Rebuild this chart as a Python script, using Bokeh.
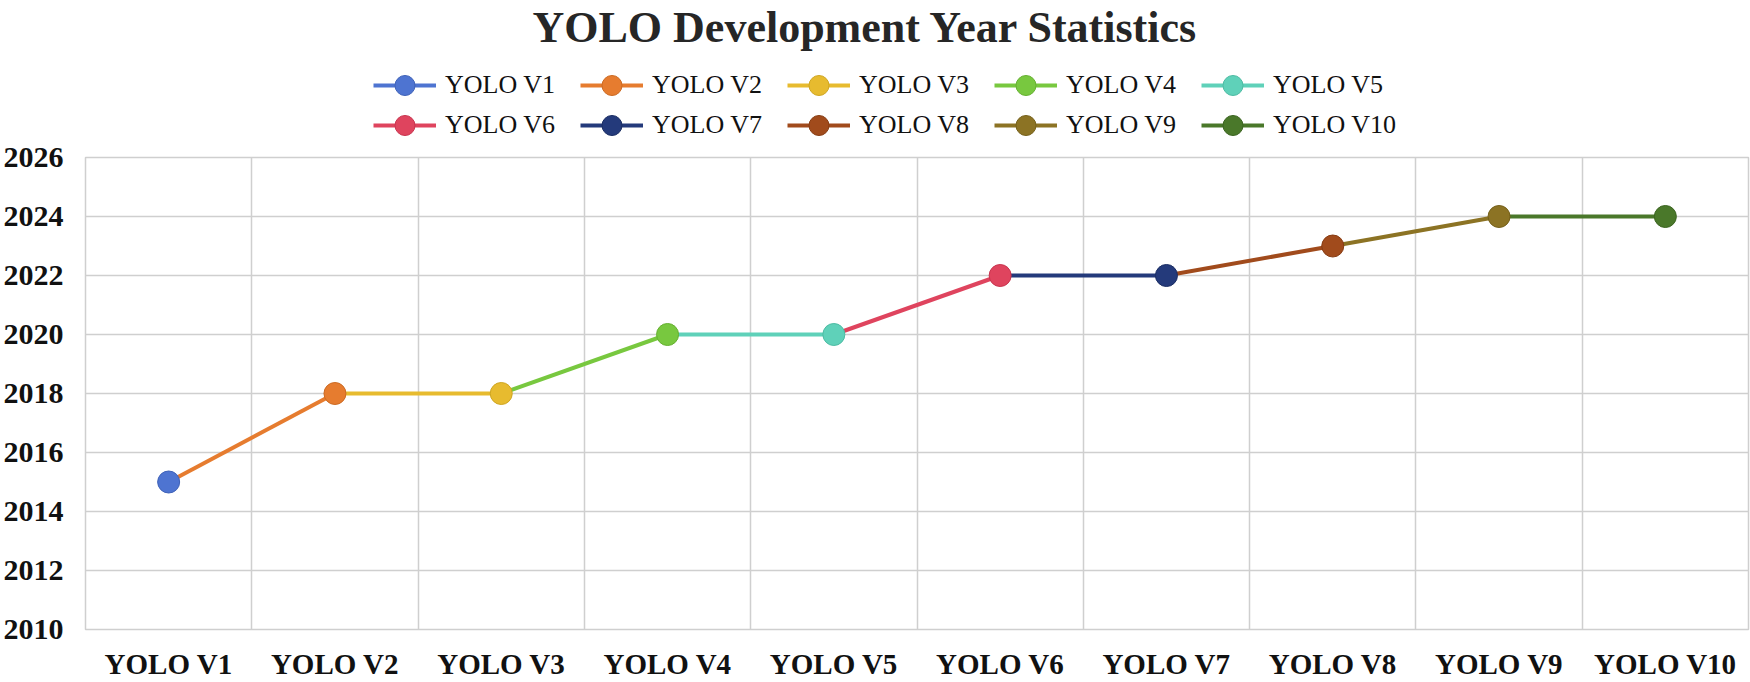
from bokeh.plotting import figure
from bokeh.layouts import column
from bokeh.models import (FactorRange, Range1d, FixedTicker, SingleIntervalTicker,
                          Legend, LegendItem)
from bokeh.embed import file_html
from bokeh.resources import INLINE

# ---- data ----
categories = ["YOLO V1", "YOLO V2", "YOLO V3", "YOLO V4", "YOLO V5",
              "YOLO V6", "YOLO V7", "YOLO V8", "YOLO V9", "YOLO V10"]
years = [2015, 2018, 2018, 2020, 2020, 2022, 2022, 2023, 2024, 2024]
colors = ["#4E74D1", "#E67C2F", "#E7BB2F", "#78C83F", "#5FD1B9",
          "#DF445E", "#243A7B", "#A14B1C", "#8C7324", "#4A782A"]
edge_colors = ["#3F62B8", "#CC6A22", "#CFA622", "#65B030", "#4DBBA3",
               "#C8344E", "#1A2D63", "#873C13", "#75601A", "#3B6420"]
y_min, y_max, y_step = 2010, 2026, 2
title_text = "YOLO Development Year Statistics"

FONT = "Liberation Serif"
W, H, TOP_H = 1750, 682, 140


def series_xy(k):
    # series k is drawn from the previous point up to its own point
    if k == 0:
        return [categories[0]], [years[0]]
    return categories[k - 1:k + 1], years[k - 1:k + 1]


def add_series(fig):
    lines, dots = [], []
    for k in range(len(categories)):
        xs, ys = series_xy(k)
        lines.append(fig.line(xs, ys, line_color=colors[k], line_width=4))
    for k in range(len(categories)):
        dots.append(fig.scatter([categories[k]], [years[k]], size=22, marker="circle",
                                fill_color=colors[k], line_color=edge_colors[k],
                                line_width=1))
    return lines, dots


# ---------------- main chart ----------------
p = figure(width=W, height=H - TOP_H, x_range=FactorRange(*categories, range_padding=0),
           y_range=Range1d(y_min, y_max), output_backend="svg", toolbar_location=None,
           min_border_left=82, min_border_right=2, min_border_bottom=50, min_border_top=17)
p.title.visible = False
p.outline_line_color = "#CFCFCF"
p.outline_line_width = 1.5
p.background_fill_color = "white"
p.border_fill_color = "white"

p.xgrid.ticker = FixedTicker(ticks=list(range(1, len(categories))))
p.xgrid.grid_line_color = "#CFCFCF"
p.xgrid.grid_line_width = 1.5
p.yaxis.ticker = SingleIntervalTicker(interval=y_step)
p.ygrid.ticker = SingleIntervalTicker(interval=y_step)
p.ygrid.grid_line_color = "#CFCFCF"
p.ygrid.grid_line_width = 1.5

for ax in (p.xaxis, p.yaxis):
    ax.axis_line_color = None
    ax.major_tick_line_color = None
    ax.minor_tick_line_color = None
    ax.major_tick_out = 0
    ax.major_tick_in = 0
    ax.major_label_text_font = FONT
    ax.major_label_text_font_style = "bold"
    ax.major_label_text_color = "#111111"
p.xaxis.major_label_text_font_size = "29px"
p.yaxis.major_label_text_font_size = "30px"
p.yaxis.major_label_standoff = 18
p.xaxis.major_label_standoff = 18
p.xaxis.major_label_orientation = "horizontal"

add_series(p)

# ---------------- title + legend strip ----------------
top = figure(width=W, height=TOP_H, x_range=FactorRange(*categories, range_padding=0),
             y_range=Range1d(0, 1), output_backend="svg", toolbar_location=None,
             title=title_text, x_axis_location=None, y_axis_location=None,
             min_border_left=0, min_border_right=0, min_border_bottom=0, min_border_top=0)
top.grid.visible = False
top.outline_line_color = None
top.background_fill_color = "white"
top.border_fill_color = "white"
top.title.text_font = FONT
top.title.text_font_size = "44px"
top.title.text_font_style = "bold"
top.title.text_color = "#262626"
top.title.align = "left"
top.title.offset = 447
top.title.standoff = 0

leg_lines, leg_dots = add_series(top)   # same series, outside this strip's y-range
items = [LegendItem(label=categories[k], renderers=[leg_lines[k], leg_dots[k]])
         for k in range(len(categories))]


def make_legend(its, vy):
    return Legend(items=its, orientation="horizontal",
                  location=(288, vy), margin=0, padding=0,
                  glyph_width=63, glyph_height=50, label_standoff=9, label_width=111,
                  spacing=24,
                  label_text_font=FONT, label_text_font_size="26px",
                  label_text_color="#111111",
                  background_fill_alpha=0, border_line_color=None)


top.add_layout(make_legend(items[:5], 30), "center")
top.add_layout(make_legend(items[5:], -10), "center")

layout = column(top, p, spacing=0)
open("out.html", "w").write(file_html(layout, INLINE))
